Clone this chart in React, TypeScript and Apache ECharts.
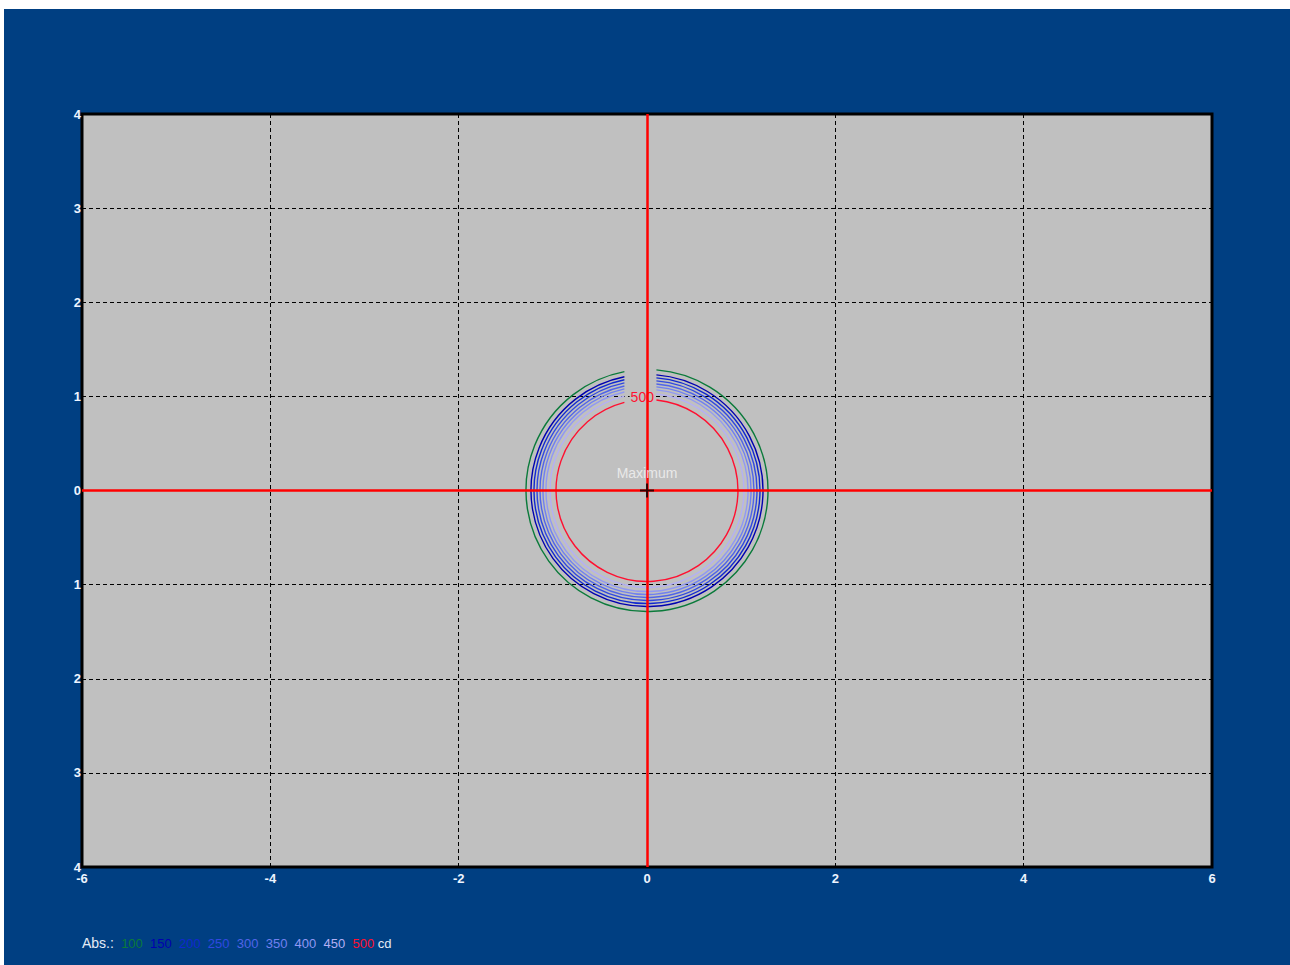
import React, { useEffect, useRef } from "react";
import * as echarts from "echarts";

// ---- data ----
const xMin = -6;
const xMax = 6;
const xStep = 2;
const yMin = -4;
const yMax = 4;
const yStep = 1;

const levels = [100, 150, 200, 250, 300, 350, 400, 450, 500];
const radii = [1.285, 1.232, 1.2, 1.168, 1.136, 1.105, 1.073, 1.03, 0.966];
const levelColors = [
  "#0a7a3a",
  "#0000b0",
  "#1028d0",
  "#3048e0",
  "#5064e8",
  "#7080f0",
  "#9098f4",
  "#b4b0f4",
  "#ff1030",
];
const labeledLevel = 500;
const maximumPoint = [0, 0];
const maximumLabel = "Maximum";
const unitLabel = "cd";
const absLabel = "Abs.:";

// gap in the contour rings (data units, x offsets from the centre)
const gapLeft = -0.24;
const gapRight = 0.1;
const labelX = -0.05;

const BG = "#003f82";
const FONT = "Arial, Liberation Sans, sans-serif";

export default function App() {
  const ref = useRef<HTMLDivElement>(null);

  useEffect(() => {
    if (!ref.current) return;
    const chart = echarts.init(ref.current, undefined, { renderer: "svg" });

    const ringData = levels.map((lv, i) => [lv, radii[i], i]);

    const rich: Record<string, any> = {
      abs: { fill: "#e4ecf6", fontSize: 14, fontFamily: FONT },
      sp: { fill: "#e4ecf6", fontSize: 13, fontFamily: FONT },
      cd: { fill: "#e4ecf6", fontSize: 13, fontFamily: FONT },
    };
    const parts: string[] = [`{abs|${absLabel}}{sp|  }`];
    levels.forEach((lv, i) => {
      rich["l" + i] = { fill: levelColors[i], fontSize: 13, fontFamily: FONT };
      parts.push(`{l${i}|${lv}}`);
    });
    const legendText =
      parts[0] + parts.slice(1).join("{sp|  }") + `{sp| }{cd|${unitLabel}}`;

    const option: any = {
      animation: false,
      backgroundColor: BG,
      grid: {
        left: 78,
        right: 78,
        top: 105,
        bottom: 98,
        show: true,
        backgroundColor: "#c0c0c0",
        borderColor: "#000000",
        borderWidth: 3,
        z: 0,
      },
      xAxis: {
        type: "value",
        min: xMin,
        max: xMax,
        interval: xStep,
        axisLine: { show: false },
        axisTick: { show: false },
        axisLabel: {
          color: "#eef4ff",
          fontSize: 13,
          fontWeight: "bold",
          fontFamily: FONT,
          margin: 5,
          showMinLabel: true,
          showMaxLabel: true,
        },
        splitLine: {
          show: true,
          lineStyle: { color: "#000000", width: 1, type: [4, 3] },
        },
      },
      yAxis: {
        type: "value",
        min: yMin,
        max: yMax,
        interval: yStep,
        axisLine: { show: false },
        axisTick: { show: false },
        axisLabel: {
          color: "#eef4ff",
          fontSize: 13,
          fontWeight: "bold",
          fontFamily: FONT,
          margin: 1,
          showMinLabel: true,
          showMaxLabel: true,
          formatter: (v: number) => String(Math.abs(v)),
        },
        splitLine: {
          show: true,
          lineStyle: { color: "#000000", width: 1, type: [4, 3] },
        },
      },
      graphic: [
        {
          type: "text",
          left: 78,
          top: 927,
          style: {
            text: legendText,
            rich,
          },
        },
      ],
      series: [
        {
          type: "custom",
          coordinateSystem: "cartesian2d",
          data: ringData,
          z: 3,
          silent: true,
          renderItem: (params: any, api: any) => {
            const lv = api.value(0);
            const r = api.value(1);
            const idx = api.value(2);
            const c = api.coord([0, 0]);
            const e = api.coord([r, 0]);
            const rp = e[0] - c[0];
            const rl = Math.max(-0.99, gapLeft / r);
            const rr = Math.min(0.99, gapRight / r);
            const start = -Math.PI / 2 + Math.asin(rr);
            const end = -Math.PI / 2 + Math.asin(rl) + Math.PI * 2;
            const children: any[] = [
              {
                type: "arc",
                shape: {
                  cx: c[0],
                  cy: c[1],
                  r: rp,
                  startAngle: start,
                  endAngle: end,
                  clockwise: true,
                },
                style: {
                  stroke: levelColors[idx],
                  lineWidth: 1.4,
                  fill: "none",
                },
              },
            ];
            if (lv === labeledLevel) {
              const p = api.coord([labelX, r]);
              children.push({
                type: "text",
                x: p[0],
                y: p[1] - 3,
                z2: 10,
                style: {
                  text: String(lv),
                  fill: levelColors[idx],
                  fontSize: 14,
                  fontFamily: FONT,
                  align: "center",
                  verticalAlign: "middle",
                  backgroundColor: "#c0c0c0",
                  padding: [0, 1],
                },
              });
            }
            return { type: "group", children };
          },
        },
        {
          type: "line",
          data: [],
          z: 4,
          silent: true,
          markLine: {
            silent: true,
            symbol: "none",
            label: { show: false },
            lineStyle: { color: "#ff0000", width: 2.5, type: "solid" },
            data: [{ xAxis: 0 }, { yAxis: 0 }],
          },
        },
        {
          type: "scatter",
          data: [maximumPoint],
          z: 5,
          silent: true,
          symbol: "path://M6,0H8V14H6ZM0,6H14V8H0Z",
          symbolSize: 14,
          itemStyle: { color: "#000000" },
          label: {
            show: true,
            position: "top",
            distance: 4,
            formatter: maximumLabel,
            color: "#f4f4f4",
            fontSize: 14,
            fontFamily: FONT,
          },
        },
      ],
    };

    chart.setOption(option);
    return () => chart.dispose();
  }, []);

  return (
    <div
      ref={ref}
      style={{ position: "absolute", left: 4, top: 9, width: 1286, height: 956 }}
    />
  );
}
